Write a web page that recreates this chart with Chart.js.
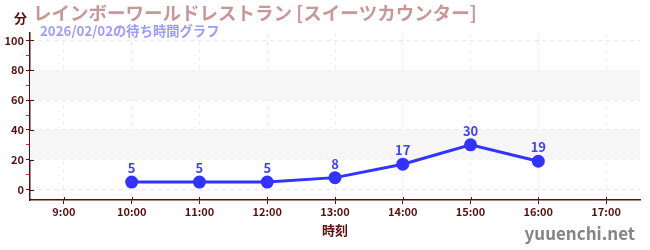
<!DOCTYPE html>
<html>
<head>
<meta charset="utf-8">
<script src="https://cdn.jsdelivr.net/npm/chart.js@4/dist/chart.umd.min.js"></script>
<style>
  html, body { margin: 0; padding: 0; background: #fff; }
  #wrap { width: 650px; height: 250px; position: relative; }
</style>
</head>
<body>
<div id="wrap"><canvas id="grafico"></canvas></div>
<script>
const horarios = ['9:00', '10:00', '11:00', '12:00', '13:00', '14:00', '15:00', '16:00', '17:00'];
const esperas = [null, 5, 5, 5, 8, 17, 30, 19, null];
const ticksY = [0, 10, 20, 30, 40, 50, 60, 70, 80, 90, 100];
const faixas = [[20, 40], [60, 80]];

const titulo = 'レインボーワールドレストラン [スイーツカウンター]';
const subtitulo = '2026/02/02の待ち時間グラフ';
const unidade = '分';
const tituloX = '時刻';
const marca = 'yuuenchi.net';

const FONTE = '"Noto Sans CJK JP", "Noto Sans", sans-serif';
const MARROM = '#5a0f0f';

// faixas cinza no fundo
const pluginFaixas = {
    id: 'faixas',
    beforeDatasetsDraw(chart) {
        const { ctx, chartArea, scales } = chart;
        ctx.save();
        ctx.fillStyle = '#f6f6f6';
        faixas.forEach(([a, b]) => {
            const y1 = scales.y.getPixelForValue(b);
            const y2 = scales.y.getPixelForValue(a);
            ctx.fillRect(chartArea.left, y1, chartArea.right - chartArea.left, y2 - y1);
        });
        ctx.restore();
    }
};

// textos: titulo, subtitulo, rotulos dos pontos, marca
const pluginTextos = {
    id: 'textos',
    afterDraw(chart) {
        const { ctx, chartArea, scales } = chart;
        ctx.save();

        // pequenas marcas que cruzam os eixos
        ctx.strokeStyle = MARROM;
        ctx.lineWidth = 1;
        ctx.beginPath();
        scales.y.ticks.forEach(t => {
            if (t.value % 20 !== 0) return;
            const y = Math.round(scales.y.getPixelForValue(t.value)) + 0.5;
            ctx.moveTo(chartArea.left, y);
            ctx.lineTo(chartArea.left + 4, y);
        });
        horarios.forEach((h, i) => {
            const x = Math.round(scales.x.getPixelForValue(i)) + 0.5;
            ctx.moveTo(x, chartArea.bottom);
            ctx.lineTo(x, chartArea.bottom - 3);
        });
        ctx.stroke();

        ctx.textBaseline = 'middle';
        ctx.fillStyle = MARROM;
        ctx.font = 'bold 13px ' + FONTE;
        ctx.textAlign = 'left';
        ctx.fillText(unidade, 14, 18);

        ctx.fillStyle = '#c89898';
        ctx.font = 'bold 18.5px ' + FONTE;
        ctx.fillText(titulo, 33, 13);

        ctx.fillStyle = '#9c9cff';
        ctx.font = 'bold 13.3px ' + FONTE;
        ctx.fillText(subtitulo, 40, 31);

        // rotulos dos pontos
        const meta = chart.getDatasetMeta(0);
        ctx.fillStyle = '#4040ff';
        ctx.font = 'bold 13px ' + FONTE;
        ctx.textAlign = 'center';
        meta.data.forEach((pt, i) => {
            if (esperas[i] === null) return;
            ctx.fillText(String(esperas[i]), pt.x, pt.y - 14);
        });

        ctx.fillStyle = '#858585';
        ctx.font = 'bold 17px ' + FONTE;
        ctx.textAlign = 'right';
        ctx.fillText(marca, 635, 234);
        ctx.restore();
    }
};

const ctx = document.getElementById('grafico').getContext('2d');
const grafico = new Chart(ctx, {
    type: 'line',
    data: {
        labels: horarios,
        datasets: [{
            data: esperas,
            borderColor: '#3333ff',
            backgroundColor: '#3333ff',
            borderWidth: 3,
            pointRadius: 5,
            pointHoverRadius: 5,
            tension: 0,
            spanGaps: false
        }]
    },
    options: {
        responsive: true,
        maintainAspectRatio: false,
        animation: false,
        layout: { padding: { top: 33, right: 10, left: 0, bottom: 0 } },
        plugins: {
            legend: { display: false },
            tooltip: { enabled: false }
        },
        scales: {
            x: {
                offset: true,
                grid: {
                    color: '#ebebeb',
                    tickColor: MARROM,
                    tickLength: 4,
                    offset: false
                },
                border: { color: MARROM, width: 1.5, dash: [4, 4] },
                ticks: {
                    color: MARROM,
                    font: { family: FONTE, size: 11, weight: 'bold' },
                    padding: 1,
                    maxRotation: 0
                },
                title: {
                    display: true,
                    text: tituloX,
                    color: MARROM,
                    font: { family: FONTE, size: 13, weight: 'bold' },
                    padding: { top: 3, bottom: 12 }
                },
                afterFit(scale) { scale.height = 50; }
            },
            y: {
                min: -7,
                max: 105,
                afterBuildTicks(scale) {
                    scale.ticks = ticksY.map(v => ({ value: v }));
                },
                grid: {
                    color: c => (c.tick && c.tick.value % 20 === 0) ? '#e6e6e6' : 'transparent',
                    tickColor: c => (c.tick && c.tick.value % 20 === 0) ? MARROM : '#dd2222',
                    tickLength: 4
                },
                border: { color: MARROM, width: 1.5, dash: [4, 4] },
                ticks: {
                    color: MARROM,
                    font: { family: FONTE, size: 11, weight: 'bold' },
                    padding: 2,
                    callback: v => (v % 20 === 0 ? v : '')
                },
                afterFit(scale) { scale.width = 30; }
            }
        }
    },
    plugins: [pluginFaixas, pluginTextos]
});
</script>
</body>
</html>
